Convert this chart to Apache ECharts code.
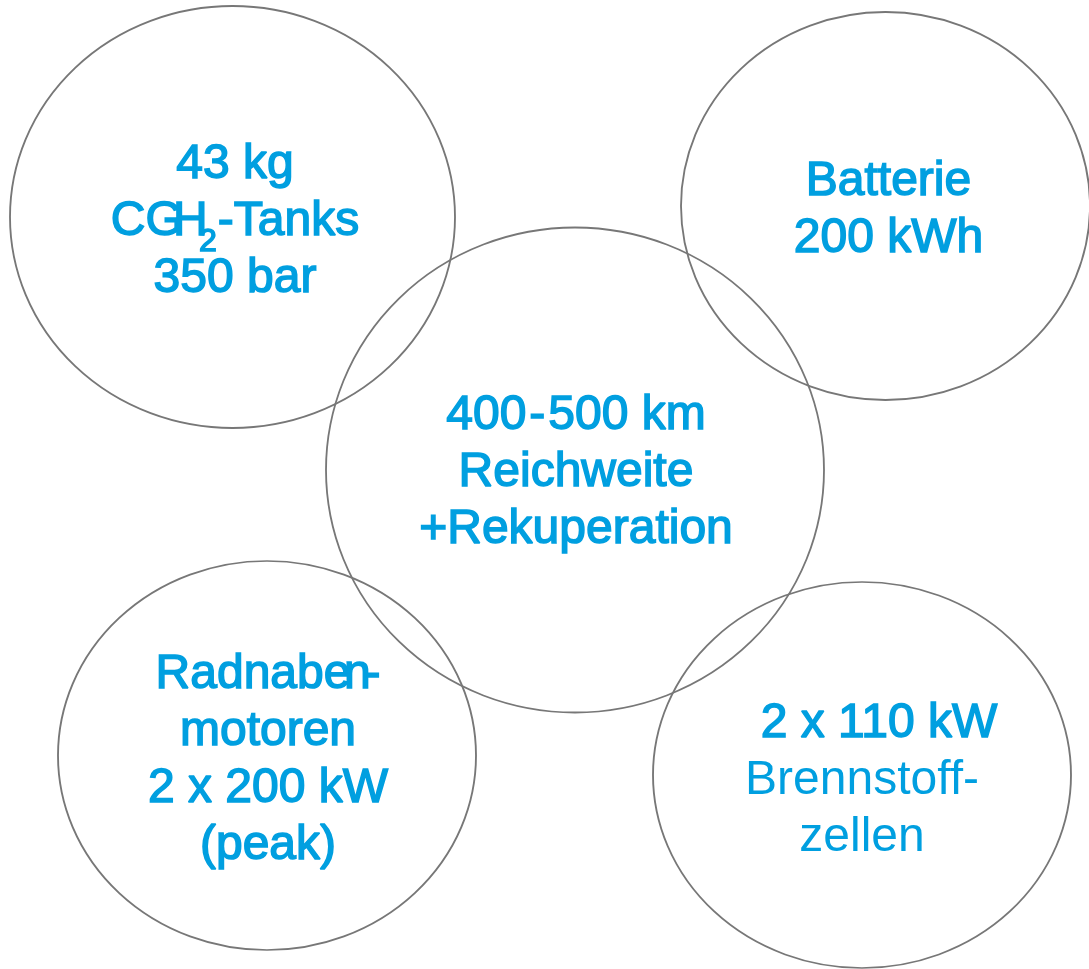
<!DOCTYPE html>
<html>
<head>
<meta charset="utf-8">
<title>Fahrzeugkonzept</title>
<script src="https://cdn.jsdelivr.net/npm/echarts@6/dist/echarts.min.js"></script>
<style>
  html, body { margin: 0; padding: 0; background: #fff; }
  #chart { width: 1089px; height: 969px; }
</style>
</head>
<body>
<div id="chart"></div>
<script>
// ellipse centres and half-axes (px)
const centerX = [232.5, 885.5, 575, 267, 862]
const centerY = [217, 206, 470, 755.5, 775]
const radiusX = [222.5, 204.5, 249, 209, 209]
const radiusY = [211, 194, 242.5, 194.5, 193]

// text of each bubble, one entry per line (rich tags)
const bubbleText = [
  ['{b|43 kg}', '{b|CG}{h|H}{s|2}{b|-Tanks}', '{b|350 bar}'],
  ['{b|Batterie}', '{b|200 kWh}'],
  ['{b|400}{d|-}{b|500 km}', '{b|Reichweite}', '{b|+Rekuperation}'],
  ['{b|Radnabe}{n|n}{b|-}', '{b|motoren}', '{b|2 x 200 kW}', '{b|(peak)}'],
  ['{p|2 x 110 kW}', '{r|Brennstoff-}', '{r|zellen}']
]
const labelShift = [[2.5, 5], [3, 4.5], [1, 3], [1, 4.5], [0, 5.5]]

const blue = '#009fe0'
const font = "'Liberation Sans', Arial, sans-serif"

const base = {
  fontSize: 48,
  fontFamily: font,
  color: blue,
  lineHeight: 57,
  textBorderColor: blue,
  textBorderWidth: 1.5
}

const chart = echarts.init(document.getElementById('chart'))

const option = {
  animation: false,
  backgroundColor: '#fff',
  grid: { left: 0, right: 0, top: 0, bottom: 0 },
  xAxis: { type: 'value', min: 0, max: 1089, show: false },
  yAxis: { type: 'value', min: 0, max: 969, inverse: true, show: false },
  series: [
    {
      type: 'scatter',
      silent: true,
      emphasis: { disabled: true },
      symbol: 'circle',
      data: centerX.map((x, i) => ({
        value: [x, centerY[i]],
        symbolSize: [radiusX[i] * 2, radiusY[i] * 2],
        label: { offset: labelShift[i] }
      })),
      itemStyle: {
        color: 'rgba(0,0,0,0)',
        borderColor: '#777',
        borderWidth: 1.8,
        opacity: 1
      },
      label: {
        show: true,
        position: 'inside',
        align: 'center',
        verticalAlign: 'middle',
        ...base,
        formatter: p => bubbleText[p.dataIndex].join('\n'),
        rich: {
          b: { ...base },
          r: { ...base, textBorderColor: 'transparent', textBorderWidth: 0 },
          p: { ...base, padding: [0, 0, 0, 34] },
          d: { ...base, padding: [0, 3, 0, 3] },
          h: { ...base, width: 15 },
          n: { ...base, width: 14 },
          s: { ...base, fontSize: 32, width: 20, padding: [40, 0, 0, 0] }
        }
      }
    }
  ]
}

chart.setOption(option)
</script>
</body>
</html>
